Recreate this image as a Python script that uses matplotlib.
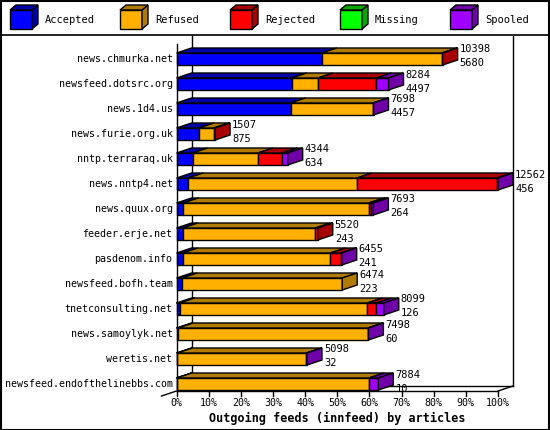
import matplotlib
matplotlib.use("Agg")
import matplotlib.pyplot as plt
from matplotlib.patches import Polygon, Rectangle
from matplotlib.lines import Line2D

hosts = ["news.chmurka.net", "newsfeed.dotsrc.org", "news.1d4.us", "news.furie.org.uk",
         "nntp.terraraq.uk", "news.nntp4.net", "news.quux.org", "feeder.erje.net",
         "pasdenom.info", "newsfeed.bofh.team", "tnetconsulting.net", "news.samoylyk.net",
         "weretis.net", "newsfeed.endofthelinebbs.com"]
totals = [10398, 8284, 7698, 1507, 4344, 12562, 7693, 5520, 6455, 6474, 8099, 7498, 5098, 7884]
accepted = [5680, 4497, 4457, 875, 634, 456, 264, 243, 241, 223, 126, 60, 32, 10]
refused = [4698, 1033, 3223, 585, 2546, 6594, 7250, 5182, 5770, 6251, 7334, 7420, 5046, 7510]
rejected = [20, 2280, 0, 47, 940, 5480, 70, 95, 405, 0, 350, 0, 0, 0]
missing = [0] * 14
spooled = [0, 474, 18, 0, 224, 32, 109, 0, 39, 0, 289, 18, 20, 364]
series_names = ["Accepted", "Refused", "Rejected", "Missing", "Spooled"]
ticks = [0, 10, 20, 30, 40, 50, 60, 70, 80, 90, 100]

front = ["#0000ff", "#ffb000", "#ff0000", "#00ff00", "#a000ff"]
dark = ["#0000a8", "#b07c00", "#a80000", "#00a800", "#7000a8"]

W, H = 550, 430
fig = plt.figure(figsize=(W / 100, H / 100), dpi=100)
mono = "DejaVu Sans Mono"
fs = 7.2

xmax = max(totals)
x0p, x1p = 176.5, 498.0
ytop, ybot = 36.0, 391.0
ax = fig.add_axes([x0p / W, (H - ybot) / H, (x1p - x0p) / W, (ybot - ytop) / H])
r_top = (ytop - 59) / 25.0
r_bot = (ybot - 59) / 25.0
ax.set_xlim(0, xmax)
ax.set_ylim(r_bot, r_top)
ax.axis("off")

ppx = xmax / (x1p - x0p)
dx = 15 * ppx
dy = 5 / 25.0
h = 0.48

def L(xs, ys, **kw):
    ax.add_line(Line2D(xs, ys, color="black", lw=1, clip_on=False, **kw))

L([dx, dx], [r_bot - dy, r_top], zorder=0)
L([xmax + dx, xmax + dx], [r_bot - dy, r_top], zorder=0)
L([dx, xmax + dx], [r_bot - dy, r_bot - dy], zorder=0)
L([0, 0], [r_bot, r_top + 0.3], zorder=5)
L([0, xmax], [r_bot, r_bot], zorder=5)
L([-dx, 0], [r_bot + dy, r_bot], zorder=5)
L([xmax, xmax + dx], [r_bot, r_bot - dy], zorder=5)
for t in ticks:
    xv = t / 100 * xmax
    L([xv, xv], [r_bot, r_bot + 0.2], zorder=5)
    ax.text(xv, r_bot + 0.28, f"{t}%", ha="center", va="top", fontsize=fs,
            family=mono, clip_on=False)
ax.text(xmax / 2, r_bot + 0.85, "Outgoing feeds (innfeed) by articles", ha="center",
        va="top", fontsize=8.5, family=mono, weight="bold", clip_on=False)

for i, host in enumerate(hosts):
    segs = [accepted[i], refused[i], rejected[i], missing[i], spooled[i]]
    top, bot = i - h / 2, i + h / 2
    x = 0
    last = None
    for k, v in enumerate(segs):
        if v <= 0:
            continue
        ax.add_patch(Rectangle((x, top), v, h, facecolor=front[k], edgecolor="black",
                               lw=1, zorder=3, clip_on=False))
        ax.add_patch(Polygon([(x, top), (x + v, top), (x + v + dx, top - dy), (x + dx, top - dy)],
                             closed=True, facecolor=dark[k], edgecolor="black", lw=1,
                             zorder=3, clip_on=False))
        x += v
        last = k
    ax.add_patch(Polygon([(x, top), (x + dx, top - dy), (x + dx, bot - dy), (x, bot)],
                         closed=True, facecolor=dark[last], edgecolor="black", lw=1,
                         zorder=3, clip_on=False))
    ax.text(-4 * ppx, i, host, ha="right", va="center", fontsize=fs, family=mono,
            clip_on=False)
    ax.text(x + dx + 2 * ppx, i - 0.38, str(totals[i]), ha="left", va="center",
            fontsize=7.5, family=mono, clip_on=False, zorder=6)
    ax.text(x + dx + 2 * ppx, i + 0.18, str(accepted[i]), ha="left", va="center",
            fontsize=7.5, family=mono, clip_on=False, zorder=6)

def P(px, py):
    return (px / W, (H - py) / H)

for k, name in enumerate(series_names):
    bx = 10 + 110 * k
    fig.patches.append(Rectangle(P(bx, 29), 22 / W, 19 / H, transform=fig.transFigure,
                                 facecolor=front[k], edgecolor="black", lw=1))
    fig.patches.append(Polygon([P(bx + 22, 29), P(bx + 22, 10), P(bx + 28, 5), P(bx + 28, 24)],
                               closed=True, transform=fig.transFigure,
                               facecolor=dark[k], edgecolor="black", lw=1))
    fig.patches.append(Polygon([P(bx, 10), P(bx + 6, 5), P(bx + 28, 5), P(bx + 22, 10)],
                               closed=True, transform=fig.transFigure,
                               facecolor=dark[k], edgecolor="black", lw=1))
    fig.text(*P(bx + 35, 20), name, ha="left", va="center", fontsize=7.5, family=mono)

fig.lines.append(Line2D([0, 1], [(H - 35) / H] * 2, transform=fig.transFigure,
                        color="black", lw=1.2))
fig.patches.append(Rectangle((0.001, 0.001), 0.997, 0.997, transform=fig.transFigure,
                             fill=False, edgecolor="black", lw=1.5))
fig.savefig("out.png", dpi=100)
